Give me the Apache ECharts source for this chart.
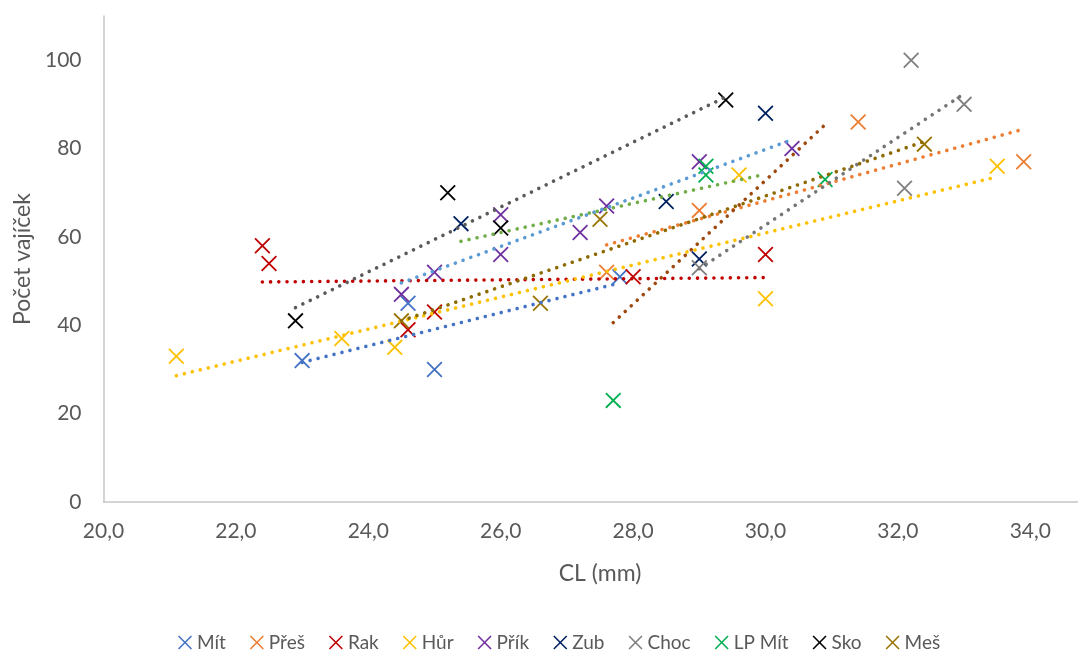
<!DOCTYPE html>
<html>
<head>
<meta charset="utf-8">
<script src="https://cdn.jsdelivr.net/npm/echarts@6/dist/echarts.min.js"></script>
<style>
  html, body { margin: 0; padding: 0; background: #fff; }
  #chart { width: 1078px; height: 651px; }
</style>
</head>
<body>
<div id="chart"></div>
<script>
// ---- data ----
const seriesNames = ['Mít', 'Přeš', 'Rak', 'Hůr', 'Přík', 'Zub', 'Choc', 'LP Mít', 'Sko', 'Meš'];

const mit   = [[23.0, 32], [24.6, 45], [25.0, 30], [27.8, 51]];
const pres  = [[27.6, 52], [29.0, 66], [31.4, 86], [33.9, 77]];
const rak   = [[22.4, 58], [22.5, 54], [24.6, 39], [25.0, 43], [28.0, 51], [30.0, 56]];
const hur   = [[21.1, 33], [23.6, 37], [24.4, 35], [29.6, 74], [30.0, 46], [33.5, 76]];
const prik  = [[24.5, 47], [25.0, 52], [26.0, 65], [26.0, 56], [27.2, 61], [27.6, 67], [29.0, 77], [30.4, 80]];
const zub   = [[25.4, 63], [28.5, 68], [29.0, 55], [30.0, 88]];
const choc  = [[29.0, 53], [32.1, 71], [32.2, 100], [33.0, 90]];
const lpMit = [[27.7, 23], [29.1, 76], [29.1, 74], [30.9, 73]];
const sko   = [[22.9, 41], [25.2, 70], [26.0, 62], [29.4, 91]];
const mes   = [[24.5, 41], [26.6, 45], [27.5, 64], [32.4, 81]];

// linear trend lines (end points)
const trendMit   = [[23.0, 31.6], [27.8, 49.6]];
const trendPres  = [[27.6, 58.2], [33.9, 84.4]];
const trendRak   = [[22.4, 49.8], [30.0, 50.8]];
const trendHur   = [[21.1, 28.6], [33.5, 73.6]];
const trendPrik  = [[24.5, 49.6], [30.4, 82.0]];
const trendZub   = [[25.4, 59.0], [30.0, 74.2]];
const trendChoc  = [[29.0, 52.8], [33.0, 92.4]];
const trendLpMit = [[27.7, 40.6], [30.9, 85.4]];
const trendSko   = [[22.9, 44.0], [29.4, 91.7]];
const trendMes   = [[24.5, 41.0], [32.4, 81.6]];

const xTickMin = 20, xTickMax = 35, xTickStep = 2;
const yTickMin = 0, yTickMax = 110, yTickStep = 20;
const xTitle = 'CL (mm)';
const yTitle = 'Počet vajíček';

// ---- styling ----
const values = [mit, pres, rak, hur, prik, zub, choc, lpMit, sko, mes];
const trends = [trendMit, trendPres, trendRak, trendHur, trendPrik, trendZub, trendChoc, trendLpMit, trendSko, trendMes];
const markerColors = ['#4472C4', '#ED7D31', '#C00000', '#FFC000', '#7030A0', '#002060', '#7F7F7F', '#00B050', '#000000', '#997300'];
const trendColors  = ['#4472C4', '#ED7D31', '#C00000', '#FFC000', '#5B9BD5', '#70AD47', '#767676', '#9E480E', '#5A5A5A', '#8C6A00'];

const XPATH = 'path://M0,8L8,0L100,92L92,100ZM92,0L100,8L8,100L0,92Z';
const FONT = 'Lato';
const TXT = '#595959';

const series = [];
seriesNames.forEach((name, i) => {
  series.push({
    name: name,
    type: 'scatter',
    data: values[i],
    symbol: XPATH,
    symbolSize: 16,
    itemStyle: { color: markerColors[i], opacity: 1 },
    z: 2
  });
});
seriesNames.forEach((name, i) => {
  series.push({
    name: name + ' trend',
    type: 'line',
    data: trends[i],
    showSymbol: false,
    symbol: 'none',
    silent: true,
    lineStyle: { color: trendColors[i], width: 3.6, type: [0.01, 8.2], cap: 'round' },
    z: 3
  });
});

const chart = echarts.init(document.getElementById('chart'), null, { renderer: 'canvas' });
chart.setOption({
  animation: false,
  backgroundColor: '#ffffff',
  textStyle: { fontFamily: FONT },
  grid: { left: 103.5, width: 993, top: 16, height: 486, containLabel: false, outerBoundsMode: 'none' },
  xAxis: {
    type: 'value',
    min: xTickMin, max: xTickMax, interval: xTickStep,
    name: xTitle, nameLocation: 'middle', nameGap: 60,
    nameTextStyle: { color: TXT, fontSize: 23, fontFamily: FONT },
    axisLine: { show: true, onZero: false, lineStyle: { color: '#C6C6C6', width: 1.5 } },
    axisTick: { show: false },
    splitLine: { show: false },
    axisLabel: {
      color: TXT, fontSize: 21, fontFamily: FONT, margin: 19, showMaxLabel: false,
      formatter: v => v.toFixed(1).replace('.', ',')
    }
  },
  yAxis: {
    type: 'value',
    min: yTickMin, max: yTickMax, interval: yTickStep,
    name: yTitle, nameLocation: 'middle', nameGap: 68, nameRotate: 90,
    nameTextStyle: { color: TXT, fontSize: 23, fontFamily: FONT },
    axisLine: { show: true, lineStyle: { color: '#C6C6C6', width: 1.5 } },
    axisTick: { show: false },
    splitLine: { show: false },
    axisLabel: { color: TXT, fontSize: 21, fontFamily: FONT, margin: 22, showMaxLabel: false }
  },
  legend: {
    data: seriesNames,
    left: 173, top: 628,
    itemWidth: 14, itemHeight: 14, itemGap: 24,
    textStyle: { color: TXT, fontSize: 19, fontFamily: FONT }
  },
  series: series
});
</script>
</body>
</html>
